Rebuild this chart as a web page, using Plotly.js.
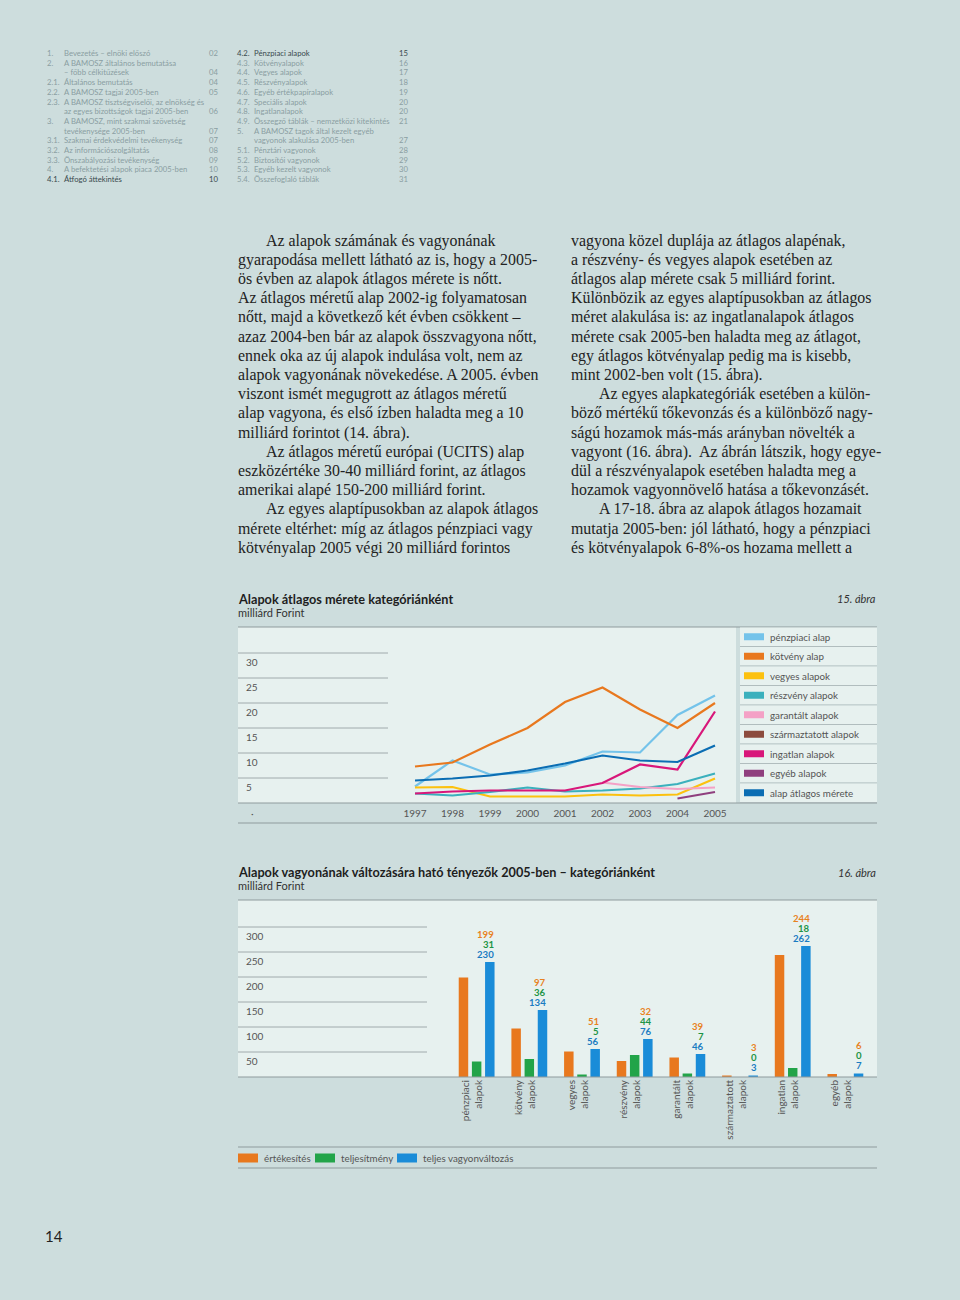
<!DOCTYPE html>
<html><head><meta charset="utf-8">
<script src="https://cdn.plot.ly/plotly-3.0.1.min.js"></script>
<style>
html,body{margin:0;padding:0;}
body{width:960px;height:1300px;background:#cddddd;position:relative;overflow:hidden;font-family:Lato,"Open Sans",sans-serif;}
.toc{position:absolute;font-size:7.7px;color:#8a9ea2;white-space:nowrap;line-height:10px;height:10px;}
.toc.cur{color:#3a4a4e;}
.toc span{position:absolute;top:0;}
.body{position:absolute;font-family:"Liberation Serif",serif;font-size:15.9px;color:#222;white-space:nowrap;line-height:19px;}
.pg{position:absolute;left:45px;top:1227px;font-size:15px;color:#222;font-family:Lato,sans-serif;}
#c15{position:absolute;left:0;top:580px;width:960px;height:250px;}
#c16{position:absolute;left:0;top:850px;width:960px;height:340px;}
</style>
</head><body>
<div id="toc"></div>
<div id="txt"></div>
<div class="pg">14</div>
<div id="c15"></div>
<div id="c16"></div>
<script>
// ---------- table of contents ----------
const tocLeft = [
 ['1.','Bevezetés – elnöki előszó','02'],
 ['2.','A BAMOSZ általános bemutatása',''],
 ['','– főbb célkitűzések','04'],
 ['2.1.','Általános bemutatás','04'],
 ['2.2.','A BAMOSZ tagjai 2005-ben','05'],
 ['2.3.','A BAMOSZ tisztségviselői, az elnökség és',''],
 ['','az egyes bizottságok tagjai 2005-ben','06'],
 ['3.','A BAMOSZ, mint szakmai szövetség',''],
 ['','tevékenysége 2005-ben','07'],
 ['3.1.','Szakmai érdekvédelmi tevékenység','07'],
 ['3.2.','Az információszolgáltatás','08'],
 ['3.3.','Önszabályozási tevékenység','09'],
 ['4.','A befektetési alapok piaca 2005-ben','10'],
 ['4.1.','Átfogó áttekintés','10']
];
const tocRight = [
 ['4.2.','Pénzpiaci alapok','15'],
 ['4.3.','Kötvényalapok','16'],
 ['4.4.','Vegyes alapok','17'],
 ['4.5.','Részvényalapok','18'],
 ['4.6.','Egyéb értékpapíralapok','19'],
 ['4.7.','Speciális alapok','20'],
 ['4.8.','Ingatlanalapok','20'],
 ['4.9.','Összegző táblák – nemzetközi kitekintés','21'],
 ['5.','A BAMOSZ tagok által kezelt egyéb',''],
 ['','vagyonok alakulása 2005-ben','27'],
 ['5.1.','Pénztári vagyonok','28'],
 ['5.2.','Biztosítói vagyonok','29'],
 ['5.3.','Egyéb kezelt vagyonok','30'],
 ['5.4.','Összefoglaló táblák','31']
];
function buildToc(rows, left, right, curIdx){
  const host=document.getElementById('toc');
  rows.forEach((r,i)=>{
    const d=document.createElement('div');
    d.className='toc'+(i===curIdx?' cur':'');
    d.style.left=left+'px'; d.style.top=(48+i*9.7)+'px'; d.style.width=(right-left)+'px';
    d.innerHTML='<span style="left:0">'+r[0]+'</span><span style="left:17px">'+r[1]+'</span><span style="right:0">'+r[2]+'</span>';
    host.appendChild(d);
  });
}
buildToc(tocLeft,47,218,13);
buildToc(tocRight,237,408,0);

// ---------- body text ----------
const colLeft = [
 [1,'Az alapok számának és vagyonának'],
 [0,'gyarapodása mellett látható az is, hogy a 2005-'],
 [0,'ös évben az alapok átlagos mérete is nőtt.'],
 [0,'Az átlagos méretű alap 2002-ig folyamatosan'],
 [0,'nőtt, majd a következő két évben csökkent –'],
 [0,'azaz 2004-ben bár az alapok összvagyona nőtt,'],
 [0,'ennek oka az új alapok indulása volt, nem az'],
 [0,'alapok vagyonának növekedése. A 2005. évben'],
 [0,'viszont ismét megugrott az átlagos méretű'],
 [0,'alap vagyona, és első ízben haladta meg a 10'],
 [0,'milliárd forintot (14. ábra).'],
 [1,'Az átlagos méretű európai (UCITS) alap'],
 [0,'eszközértéke 30-40 milliárd forint, az átlagos'],
 [0,'amerikai alapé 150-200 milliárd forint.'],
 [1,'Az egyes alaptípusokban az alapok átlagos'],
 [0,'mérete eltérhet: míg az átlagos pénzpiaci vagy'],
 [0,'kötvényalap 2005 végi 20 milliárd forintos']
];
const colRight = [
 [0,'vagyona közel duplája az átlagos alapénak,'],
 [0,'a részvény- és vegyes alapok esetében az'],
 [0,'átlagos alap mérete csak 5 milliárd forint.'],
 [0,'Különbözik az egyes alaptípusokban az átlagos'],
 [0,'méret alakulása is: az ingatlanalapok átlagos'],
 [0,'mérete csak 2005-ben haladta meg az átlagot,'],
 [0,'egy átlagos kötvényalap pedig ma is kisebb,'],
 [0,'mint 2002-ben volt (15. ábra).'],
 [1,'Az egyes alapkategóriák esetében a külön-'],
 [0,'böző mértékű tőkevonzás és a különböző nagy-'],
 [0,'ságú hozamok más-más arányban növelték a'],
 [0,'vagyont (16. ábra).&nbsp; Az ábrán látszik, hogy egye-'],
 [0,'dül a részvényalapok esetében haladta meg a'],
 [0,'hozamok vagyonnövelő hatása a tőkevonzásét.'],
 [1,'A 17-18. ábra az alapok átlagos hozamait'],
 [0,'mutatja 2005-ben: jól látható, hogy a pénzpiaci'],
 [0,'és kötvényalapok 6-8%-os hozama mellett a']
];
function buildCol(lines,left){
  const host=document.getElementById('txt');
  lines.forEach((l,i)=>{
    const d=document.createElement('div');
    d.className='body';
    d.style.left=(left+(l[0]?28:0))+'px';
    d.style.top=(230.5+i*19.2)+'px';
    d.innerHTML=l[1];
    host.appendChild(d);
  });
}
buildCol(colLeft,238);
buildCol(colRight,571);

// ---------- chart 15 data ----------
const years = [1997,1998,1999,2000,2001,2002,2003,2004,2005];
const penzpiaci   = [3.3, 8.5, 5.7, 6.1, 7.5, 10.3, 10.1, 17.6, 21.5];
const kotveny     = [7.3, 8.1, 11.7, 15.0, 20.2, 23.1, 18.7, 15.0, 20.0];
const vegyes      = [3.1, 3.2, 1.3, 1.3, 1.3, 1.7, 1.5, 1.7, 4.9];
const reszveny    = [1.9, 1.5, 2.2, 3.1, 2.3, 2.5, 2.9, 3.8, 5.9];
const garantalt   = [null, null, null, null, null, 4.1, 3.2, 2.8, 3.1];
const szarmaztatott = [null, null, null, null, null, null, null, null, null];
const ingatlan    = [1.9, 2.3, 2.5, 2.5, 2.5, 4.0, 7.7, 6.7, 18.3];
const egyeb       = [null, null, null, null, null, null, null, 0.9, 2.2];
const atlag       = [4.5, 4.9, 5.5, 6.5, 7.9, 9.5, 8.5, 8.2, 11.5];
const names15 = ['pénzpiaci alap','kötvény alap','vegyes alapok','részvény alapok','garantált alapok','származtatott alapok','ingatlan alapok','egyéb alapok','alap átlagos mérete'];
const series15 = [penzpiaci,kotveny,vegyes,reszveny,garantalt,szarmaztatott,ingatlan,egyeb,atlag];
const colors15 = ['#74c3ea','#e8781e','#fcc10f','#3bb0bd','#f4a1c6','#8c4b3e','#d8177a','#8f3f7e','#0b6db3'];
const yTicks15 = [5,10,15,20,25,30];

// ---------- chart 16 data ----------
const kategoriak = ['pénzpiaci<br>alapok','kötvény<br>alapok','vegyes<br>alapok','részvény<br>alapok','garantált<br>alapok','származtatott<br>alapok','ingatlan<br>alapok','egyéb<br>alapok'];
const ertekesites = [199, 97, 51, 32, 39, 3, 244, 6];
const teljesitmeny = [31, 36, 5, 44, 7, 0, 18, 0];
const teljes = [230, 134, 56, 76, 46, 3, 262, 7];
const names16 = ['értékesítés','teljesítmény','teljes vagyonváltozás'];
const colors16 = ['#e8781e','#22a449','#1a8cd8'];
const textColors16 = ['#e8821f','#1d9446','#1a7cc2'];
const yTicks16 = [50,100,150,200,250,300];

const FONT = 'Lato, "Open Sans", sans-serif';
const LINE = '#8f9b9d';
const LIGHT = '#e7f1ef';

// ---------- chart 15 ----------
(function(){
  const X=px=>(px-238)/498, Y=py=>(803-py)/176;
  const traces = series15.map((s,i)=>({
    x: years, y: s, type:'scatter', mode:'lines', name:names15[i],
    line:{color:colors15[i], width:2.2}, connectgaps:false, hoverinfo:'skip'
  }));
  const shapes=[], ann=[];
  [[627,1.2],[803,1.2],[823,1]].forEach(([py,w])=>shapes.push({type:'line',xref:'paper',yref:'paper',x0:X(238),x1:X(877),y0:Y(py),y1:Y(py),line:{color:LINE,width:w}}));
  yTicks15.forEach(v=>shapes.push({type:'line',xref:'paper',yref:'y',x0:0,x1:X(388),y0:v,y1:v,line:{color:LINE,width:0.8},layer:'below'}));
  const rowH=19.5;
  names15.forEach((n,i)=>{
    const top=627+i*rowH, bot=top+rowH, cy=top+rowH/2;
    shapes.push({type:'rect',xref:'paper',yref:'paper',x0:X(740),x1:X(877),y0:Y(bot-0.6),y1:Y(top+0.6),fillcolor:LIGHT,line:{width:0}});
    shapes.push({type:'line',xref:'paper',yref:'paper',x0:X(740),x1:X(877),y0:Y(bot),y1:Y(bot),line:{color:'#aab5b6',width:0.8}});
    shapes.push({type:'rect',xref:'paper',yref:'paper',x0:X(744),x1:X(764),y0:Y(cy+3.5),y1:Y(cy-3.5),fillcolor:colors15[i],line:{width:0}});
    ann.push({xref:'paper',yref:'paper',x:X(768),y:Y(cy),xanchor:'left',yanchor:'middle',showarrow:false,text:n,font:{family:FONT,size:9.8,color:'#555'}});
  });
  ann.push({xref:'paper',yref:'paper',x:X(236),y:Y(599),xanchor:'left',yanchor:'middle',showarrow:false,text:'<b>Alapok átlagos mérete kategóriánként</b>',font:{family:FONT,size:12.7,color:'#1e1e1e'}});
  ann.push({xref:'paper',yref:'paper',x:X(236),y:Y(612),xanchor:'left',yanchor:'middle',showarrow:false,text:'milliárd Forint',font:{family:FONT,size:11,color:'#333'}});
  ann.push({xref:'paper',yref:'paper',x:X(878),y:Y(599),xanchor:'right',yanchor:'middle',showarrow:false,text:'<i>15. ábra</i>',font:{family:FONT,size:11,color:'#333'}});
  ann.push({xref:'paper',yref:'paper',x:X(252),y:Y(813),xanchor:'center',yanchor:'middle',showarrow:false,text:'·',font:{family:FONT,size:10,color:'#555'}});
  const layout={
    width:960,height:250,margin:{l:238,r:224,t:47,b:27,pad:0},
    paper_bgcolor:'rgba(0,0,0,0)',plot_bgcolor:LIGHT,showlegend:false,
    xaxis:{range:[1992.28,2005.56],tickvals:years,ticktext:years.map(String),showgrid:false,zeroline:false,showline:false,ticks:'',ticklabelstandoff:3,tickfont:{family:FONT,size:10,color:'#555'},fixedrange:true},
    yaxis:{range:[0,35.2],tickvals:yTicks15,ticktext:yTicks15.map(String),ticklabelposition:'inside',ticklabelshift:9,ticklabelstandoff:5,showgrid:false,zeroline:false,showline:false,ticks:'',tickfont:{family:FONT,size:10,color:'#555'},fixedrange:true},
    shapes:shapes,annotations:ann
  };
  Plotly.newPlot('c15',traces,layout,{staticPlot:true,displayModeBar:false});
})();

// ---------- chart 16 ----------
(function(){
  const X=px=>(px-238)/639, Y=py=>(1077-py)/177;
  const vals=[ertekesites,teljesitmeny,teljes];
  const traces=vals.map((v,i)=>({x:kategoriak,y:v,type:'bar',name:names16[i],marker:{color:colors16[i],line:{width:0}},hoverinfo:'skip'}));
  const shapes=[],ann=[];
  [[900,1.2],[1077,1.2],[1147,1],[1168,1]].forEach(([py,w])=>shapes.push({type:'line',xref:'paper',yref:'paper',x0:X(238),x1:X(877),y0:Y(py),y1:Y(py),line:{color:LINE,width:w}}));
  yTicks16.forEach(v=>shapes.push({type:'line',xref:'paper',yref:'y',x0:0,x1:X(427),y0:v,y1:v,line:{color:LINE,width:0.8},layer:'below'}));
  kategoriak.forEach((c,i)=>{
    vals.forEach((v,j)=>{
      ann.push({x:c,y:teljes[i],xref:'x',yref:'y',xanchor:'right',yanchor:'middle',xshift:19,yshift:27.7-j*10,showarrow:false,text:'<b>'+v[i]+'</b>',font:{family:FONT,size:9.6,color:textColors16[j]}});
    });
  });
  const lx=[238,315,397];
  names16.forEach((n,i)=>{
    shapes.push({type:'rect',xref:'paper',yref:'paper',x0:X(lx[i]),x1:X(lx[i]+20),y0:Y(1162.5),y1:Y(1153.5),fillcolor:colors16[i],line:{width:0}});
    ann.push({xref:'paper',yref:'paper',x:X(lx[i]+24),y:Y(1158),xanchor:'left',yanchor:'middle',showarrow:false,text:n,font:{family:FONT,size:9.8,color:'#555'}});
  });
  ann.push({xref:'paper',yref:'paper',x:X(236),y:Y(872),xanchor:'left',yanchor:'middle',showarrow:false,text:'<b>Alapok vagyonának változására ható tényezők 2005-ben – kategóriánként</b>',font:{family:FONT,size:12.7,color:'#1e1e1e'}});
  ann.push({xref:'paper',yref:'paper',x:X(236),y:Y(885),xanchor:'left',yanchor:'middle',showarrow:false,text:'milliárd Forint',font:{family:FONT,size:11,color:'#333'}});
  ann.push({xref:'paper',yref:'paper',x:X(878),y:Y(873),xanchor:'right',yanchor:'middle',showarrow:false,text:'<i>16. ábra</i>',font:{family:FONT,size:11,color:'#333'}});
  const layout={
    width:960,height:340,margin:{l:238,r:83,t:50,b:113,pad:0},
    paper_bgcolor:'rgba(0,0,0,0)',plot_bgcolor:LIGHT,showlegend:false,
    barmode:'group',bargap:0.25,bargroupgap:0.28,
    xaxis:{type:'category',range:[-4.53,7.6],showgrid:false,zeroline:false,showline:false,ticks:'',tickangle:-90,ticklabelshift:-4,tickfont:{family:FONT,size:10,color:'#555'},fixedrange:true},
    yaxis:{range:[0,354],tickvals:yTicks16,ticktext:yTicks16.map(String),ticklabelposition:'inside',ticklabelshift:9,ticklabelstandoff:5,showgrid:false,zeroline:false,showline:false,ticks:'',tickfont:{family:FONT,size:10,color:'#555'},fixedrange:true},
    shapes:shapes,annotations:ann
  };
  Plotly.newPlot('c16',traces,layout,{staticPlot:true,displayModeBar:false});
})();
</script>
</body></html>
